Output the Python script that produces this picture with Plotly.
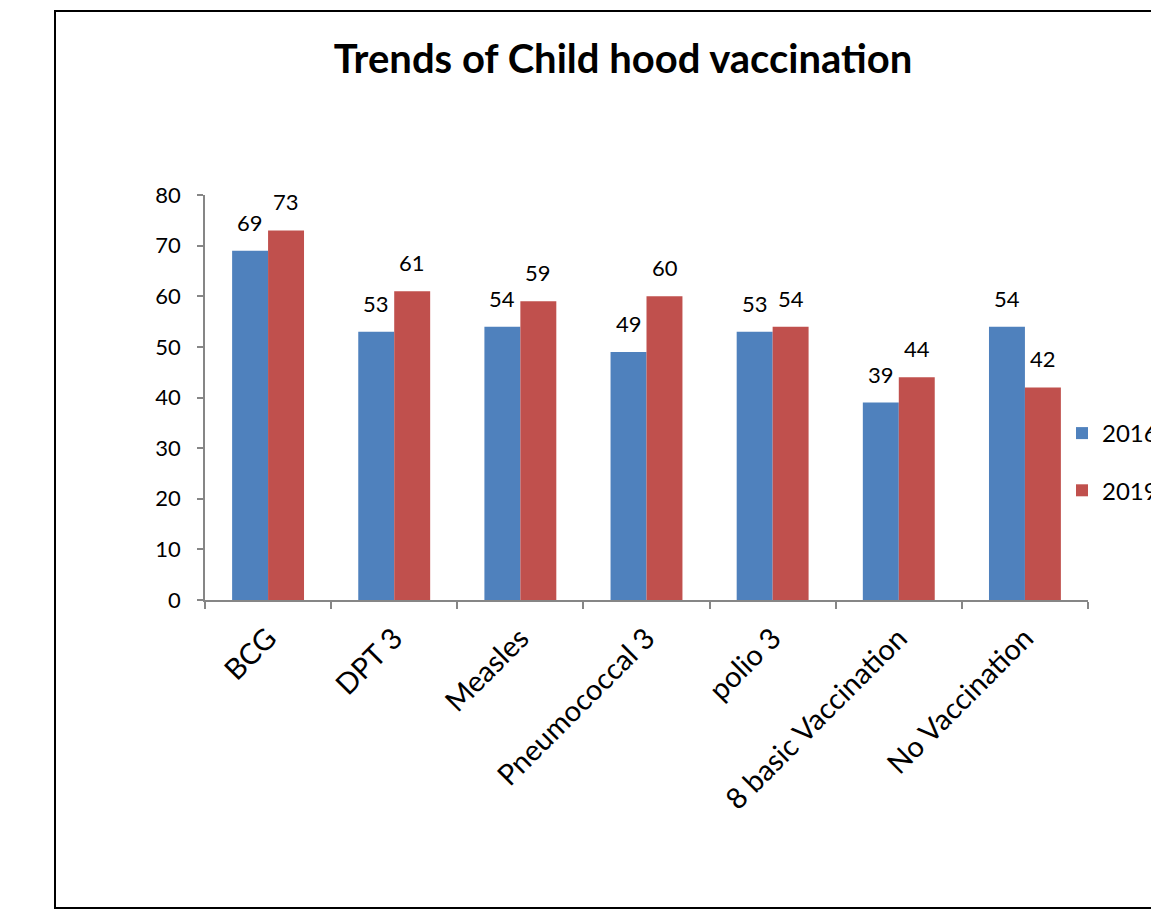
import plotly.graph_objects as go

# Childhood vaccination coverage (%) by antigen, two survey rounds
categories = ["BCG", "DPT 3", "Measles", "Pneumococcal 3", "polio 3",
              "8 basic Vaccination", "No Vaccination"]
values_2016 = [69, 53, 54, 49, 53, 39, 54]
values_2019 = [73, 61, 59, 60, 54, 44, 42]
y_ticks = [0, 10, 20, 30, 40, 50, 60, 70, 80]

W, H = 1151, 919
L, R, T, B = 205, 63, 195, 319
plot_w = W - L - R
plot_h = H - T - B

FONT = "Lato, Carlito, 'Liberation Sans', sans-serif"
COLORS = {"2016": "#4F81BD", "2019": "#C0504D"}

fig = go.Figure()
for name, vals, grp in (("2016", values_2016, "a"), ("2019", values_2019, "b")):
    fig.add_trace(go.Bar(
        name=name, x=categories, y=vals,
        marker=dict(color=COLORS[name], line=dict(width=0)),
        legendgroup=grp,
    ))

# value labels above each bar, half a bar width left/right of the category
bar_half = 18
annotations = []
for vals, dx in ((values_2016, -bar_half), (values_2019, bar_half)):
    for cat, v in zip(categories, vals):
        annotations.append(dict(
            x=cat, y=v, xref="x", yref="y", text=str(v),
            showarrow=False, xshift=dx, yshift=13,
            xanchor="center", yanchor="bottom",
            font=dict(size=22, family=FONT, color="black"),
        ))


def px_to_paper_x(px):
    return (px - L) / plot_w


def px_to_paper_y(py):
    return (H - B - py) / plot_h


fig.update_layout(
    width=W, height=H,
    margin=dict(l=L, r=R, t=T, b=B, autoexpand=False),
    paper_bgcolor="white", plot_bgcolor="white",
    font=dict(family=FONT, color="black"),
    barmode="group", bargap=0.43, bargroupgap=0,
    title=dict(
        text="<b>Trends of Child hood vaccination</b>",
        xref="container", yref="container",
        x=623 / W, y=1 - 59 / H, xanchor="center", yanchor="middle",
        font=dict(size=40, family=FONT, color="black"),
    ),
    legend=dict(
        xref="container", yref="container",
        x=1062 / W, y=1 - 411 / H, xanchor="left", yanchor="top",
        font=dict(size=24, family=FONT, color="black"),
        traceorder="grouped", tracegroupgap=23,
        bgcolor="rgba(0,0,0,0)",
    ),
    xaxis=dict(
        showline=True, linecolor="#868686", linewidth=1.5,
        ticks="outside", tickson="boundaries", ticklen=7,
        tickcolor="#868686", tickwidth=1.5,
        tickangle=-45, tickfont=dict(size=29, family=FONT),
        ticklabelstandoff=8,
        showgrid=False,
    ),
    yaxis=dict(
        range=[0, 80], tickvals=y_ticks,
        showline=True, linecolor="#868686", linewidth=1.5,
        ticks="outside", ticklen=6, tickcolor="#868686", tickwidth=1.5,
        tickfont=dict(size=22, family=FONT),
        ticklabelstandoff=12,
        showgrid=False, zeroline=False,
    ),
    annotations=annotations,
    shapes=[dict(
        type="rect", xref="paper", yref="paper",
        x0=px_to_paper_x(55), x1=px_to_paper_x(1200),
        y0=px_to_paper_y(908), y1=px_to_paper_y(11),
        line=dict(color="black", width=2), fillcolor="rgba(0,0,0,0)",
        layer="below",
    )],
)

fig.write_html("out.html")
